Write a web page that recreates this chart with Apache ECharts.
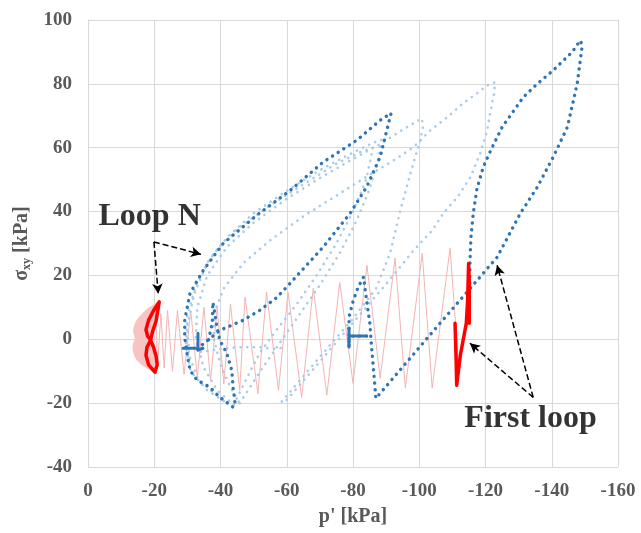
<!DOCTYPE html>
<html>
<head>
<meta charset="utf-8">
<script src="https://cdn.jsdelivr.net/npm/echarts@6/dist/echarts.min.js"></script>
<style>
html,body{margin:0;padding:0;background:#fff;}
#chart{width:641px;height:533px;}
</style>
</head>
<body>
<div id="chart"></div>
<script>
// ---- data (p' [kPa], sigma_xy [kPa]) ----
const xTicks = [0, -20, -40, -60, -80, -100, -120, -140, -160];
const yTicks = [-40, -20, 0, 20, 40, 60, 80, 100];

const firstLoopStart = [[-84.1,1],[-78.8,1],[-78.8,3.5],[-78.8,-2.4]];
const firstLoopBlue = [[-84.1,1],[-78.8,1],[-78.8,-2.4],[-78.8,7],[-80.1,12.2],[-81.6,16.4],[-83.2,19.5],[-84.1,12.2],[-85.1,4.9],[-85.6,-2.4],[-86.3,-10.7],[-86.9,-18.5],[-105,3.5],[-123.5,25.7],[-130.5,39.4],[-135.6,47.6],[-140.4,57],[-144.7,66.4],[-147.7,80.1],[-149.2,92],[-148.6,93.6],[-146.2,90],[-140.4,84.2],[-135.6,80],[-131.4,75.8],[-125,66.4],[-121.5,59],[-119.3,53.9],[-117.4,47],[-116.3,39.4],[-115.6,32],[-115.3,23.8],[-115.2,15],[-115,5.5]];

const loopNStart = [[-28.7,-2.8],[-33.2,-2.8],[-33.2,1.9],[-33.2,-3.4],[-33.2,-2.8],[-34.7,-2.8]];
const loopNBlue = [[-33,-3],[-39.8,2.8],[-46.7,5.9],[-51.9,9.1],[-57,13.1],[-60,16.4],[-71,28.9],[-79.1,39.4],[-84.1,47.7],[-88.2,57.1],[-90.7,67.5],[-91.5,70.8],[-88.2,68.6],[-81.1,62.3],[-71,55.5],[-61,46.6],[-50.9,38.8],[-40.8,30],[-34.8,21.6],[-30.8,14.4],[-29.2,6],[-29.2,0.6],[-29.9,-4.4],[-30.8,-9.7],[-32.9,-12.8],[-36.8,-15],[-39.8,-18.2],[-43.8,-21.3],[-44.4,-20],[-43.8,-15],[-43.4,-9.7],[-41.9,-4.4],[-39.8,-0.3],[-38.9,3.8],[-38.3,8.1],[-37.7,11.6],[-37.5,5],[-36,-2]];

const lightLoop1 = [[-60,-19],[-70,-7],[-80,5.2],[-90,17.3],[-98,27.5],[-103.9,34.1],[-107.2,39.4],[-111.5,44.5],[-115.4,50.7],[-118.4,58.2],[-120.5,65.4],[-121.4,70.8],[-122.6,77],[-122.9,80.5],[-122.3,81.1],[-120.5,79.5],[-117.4,77],[-113.2,73.9],[-108.4,69.5],[-103.3,65.4],[-98.2,60.1],[-92.2,56],[-85,51.5],[-75,45],[-65,38.5],[-55,31],[-47,24],[-41,16],[-38,8],[-38,0],[-40,-8],[-43,-15],[-46,-20.5]];
const lightLoop2 = [[-58.5,-19.5],[-70,-5.5],[-80,6.5],[-87,16],[-91.2,27],[-94.2,40],[-96.3,48],[-98.2,55.1],[-99.4,59.2],[-100.3,62.3],[-101.1,66.4],[-100.8,69.2],[-98,67.5],[-94,65],[-88,61],[-80,56.5],[-70,50.5],[-60,44],[-50,36.5],[-42,29],[-36,20],[-33,10],[-32.5,0],[-35,-9],[-39,-16],[-44,-20.5]];
const lightLoop3 = [[-45.8,-20],[-52,-10],[-58,-1],[-64,8],[-70,17],[-76,27],[-81,37],[-85,47],[-87.5,56],[-88.5,62.5],[-86,61.5],[-80,58.5],[-70,53],[-60,46.5],[-50,39.5],[-42,32],[-36,24],[-32,14],[-30,4],[-30.5,-5],[-33,-12],[-38,-17],[-43,-20]];
const lightLoop4 = [[-44,-20.5],[-48,-12],[-52,-4],[-57,3],[-63,11],[-69,20],[-75,30],[-80,40],[-84,50],[-86,60],[-83,59],[-75,55],[-65,48.5],[-55,42],[-45,34.5],[-38,27],[-33,18],[-30,8],[-29.5,-2],[-31,-10],[-36,-16],[-42,-20]];
const lightMisc = [[-34,-4],[-40,-3],[-45,-2.5],[-52,-2.5],[-56,-3],[-60,-2.5]];

const pinkZigzag = [[-112,-10],[-109.3,28.5],[-103.9,-15.3],[-100.9,26.9],[-95.8,-15.3],[-92.7,25.4],[-88.2,-12.2],[-84.2,23.2],[-80,-13.8],[-76,17.8],[-72.1,-17.5],[-68,16],[-64.5,-18.2],[-60.4,14.7],[-57.5,-16],[-53.9,14.8],[-51.3,-17],[-47.4,13.2],[-45.8,-16],[-43,11],[-41,-14],[-39,10],[-37,-13],[-35,10],[-33,-12],[-31,9],[-29,-11],[-27,9],[-25.5,-10],[-24,9],[-23,-9],[-22,8],[-21,-8],[-20.5,7]];
const pinkBlob = [[-21.5,11.7],[-18.5,10],[-17.1,8.8],[-14.6,5.9],[-13.6,2.8],[-14.1,0.3],[-13.4,-2.4],[-14.1,-5.5],[-15.6,-7.5],[-17.6,-9],[-20.8,-10.7],[-20.5,-6],[-19.6,-2],[-19.6,3],[-20.9,7]];

const redFirstLoop = [[-110.8,5],[-111.1,-5],[-111.3,-14.4],[-112.4,-5],[-113.3,0],[-114.2,5],[-114.6,12],[-114.9,23.7],[-115.1,18],[-115.1,5]];
const redLoopN = [[-21.5,11.7],[-19.8,9],[-18.3,6],[-17.5,3],[-18,1],[-18.9,-0.3],[-17.8,-2.5],[-17.5,-5],[-18.3,-8],[-20.2,-10.3],[-20.8,-10.8],[-20.9,-8],[-20.6,-5.5],[-19.8,-2.5],[-18.9,-0.3],[-19.5,2.5],[-20.5,5.5],[-21,8.5],[-21.5,11.7]];

const labelTexts = ['Loop N', 'First loop'];
const labelPos = [[-18.6,38.5],[-133.6,-25]];
const arrowsLoopN = [[[-19.9,30.5],[-34.1,26.6]],[[-19.9,30.5],[-21.2,14.3]]];
const arrowsFirst = [[[-134.4,-18.2],[-123.5,23.2]],[[-134.4,-18.2],[-115.3,-1.25]]];

// ---- chart ----
const FONT = '"Liberation Serif", "Times New Roman", serif';
const GREY = '#595959';
const DARK = '#2e75b6';
const LIGHT = '#a9cbe8';

function dotted(name, data, color, width, gap, z) {
  return {
    name, type: 'line', data, showSymbol: false, symbol: 'none', z: z,
    lineStyle: { color, width, type: [0.1, gap], cap: 'round', join: 'round' },
    silent: true
  };
}
function solid(name, data, color, width, z) {
  return {
    name, type: 'line', data, showSymbol: false, symbol: 'none', z: z,
    lineStyle: { color, width, type: 'solid', cap: 'round', join: 'round' },
    silent: true
  };
}

const arrowData = arrowsLoopN.concat(arrowsFirst).map(a => [{ coord: a[0] }, { coord: a[1] }]);

const chart = echarts.init(document.getElementById('chart'), null, { renderer: 'canvas' });
chart.setOption({
  animation: false,
  backgroundColor: '#fff',
  grid: { left: 88, right: 23, top: 20, bottom: 66, containLabel: false },
  xAxis: {
    type: 'value', inverse: true, min: -160, max: 0, interval: 20,
    name: "p' [kPa]", nameLocation: 'middle', nameGap: 40,
    nameTextStyle: { fontFamily: FONT, fontWeight: 'bold', fontSize: 20, color: GREY },
    axisLine: { show: true, lineStyle: { color: '#d9d9d9', width: 1 } },
    axisTick: { show: false },
    axisLabel: { margin: 15, fontFamily: FONT, fontWeight: 'bold', fontSize: 19, color: GREY },
    splitLine: { show: true, lineStyle: { color: '#d9d9d9', width: 1 } }
  },
  yAxis: {
    type: 'value', min: -40, max: 100, interval: 20,
    name: '{s|σ}{b|xy}{s| [kPa]}', nameLocation: 'middle', nameGap: 48,
    nameTextStyle: {
      color: GREY,
      rich: {
        s: { fontFamily: FONT, fontWeight: 'bold', fontSize: 20, color: GREY },
        b: { fontFamily: FONT, fontWeight: 'bold', fontSize: 12, color: GREY, padding: [10, 0, 0, 0] }
      }
    },
    axisLine: { show: true, lineStyle: { color: '#d9d9d9', width: 1 } },
    axisTick: { show: false },
    axisLabel: { margin: 16, fontFamily: FONT, fontWeight: 'bold', fontSize: 19, color: GREY },
    splitLine: { show: true, lineStyle: { color: '#d9d9d9', width: 1 } }
  },
  series: [
    {
      name: 'blob', type: 'custom', data: pinkBlob, z: 1, silent: true,
      encode: { x: 0, y: 1 },
      renderItem: function (params, api) {
        if (params.dataIndex !== 0) return null;
        const pts = pinkBlob.map(p => api.coord(p));
        return { type: 'polygon', shape: { points: pts, smooth: 0.3 }, style: { fill: '#f7c3c3' } };
      }
    },
    solid('pink', pinkZigzag, '#f4b4b4', 1, 2),
    dotted('light1', lightLoop1, LIGHT, 2.6, 6.6, 3),
    dotted('light2', lightLoop2, LIGHT, 2.6, 6.6, 3),
    dotted('light3', lightLoop3, LIGHT, 2.6, 6.6, 3),
    dotted('light4', lightLoop4, LIGHT, 2.6, 6.6, 3),
    dotted('lightMisc', lightMisc, LIGHT, 2.6, 6.6, 3),
    dotted('firstLoop', firstLoopBlue, DARK, 3.4, 6.6, 4),
    solid('firstStart', firstLoopStart, DARK, 3, 4),
    dotted('loopN', loopNBlue, DARK, 3.4, 6.6, 4),
    solid('loopNStart', loopNStart, DARK, 3, 4),
    solid('redFirst', redFirstLoop, '#ff0000', 3.5, 5),
    solid('redN', redLoopN, '#ff0000', 3.5, 5),
    {
      name: 'labels', type: 'scatter', symbolSize: 0, z: 6, silent: true,
      data: labelPos.map((p, i) => ({ value: p, label: { formatter: labelTexts[i] } })),
      label: {
        show: true, position: 'inside', fontFamily: FONT, fontWeight: 'bold',
        fontSize: 32, color: '#000', align: 'center', verticalAlign: 'middle'
      },
      markLine: {
        silent: true, symbol: ['none', 'arrow'], symbolSize: [8, 10],
        label: { show: false },
        lineStyle: { color: '#000', type: 'dashed', width: 1.5 },
        data: arrowData
      }
    }
  ]
});
</script>
</body>
</html>
